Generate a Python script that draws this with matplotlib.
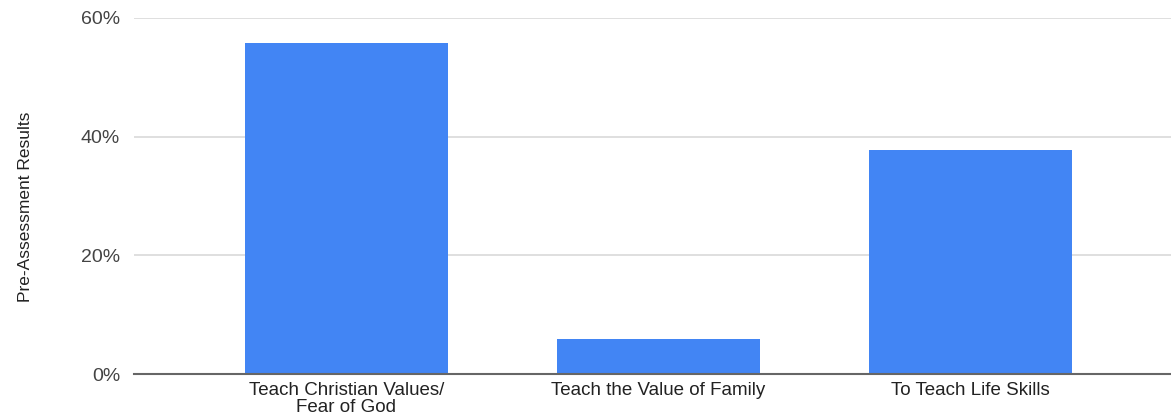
import matplotlib
matplotlib.use("Agg")
import matplotlib.pyplot as plt
from matplotlib.ticker import FuncFormatter

categories = ["Teach Christian Values/\nFear of God", "Teach the Value of Family", "To Teach Life Skills"]
values = [55.8, 5.9, 37.8]
yticks = [0, 20, 40, 60]

plt.rcParams['font.family'] = ['Liberation Sans', 'DejaVu Sans']

fig = plt.figure(figsize=(11.71, 4.15), dpi=100)
ax = fig.add_axes([134/1171, 41/415, 1 - 134/1171 + 0.002, (374-18)/415])

x = list(range(len(categories)))
ax.bar(x, values, width=0.65, color="#4285F4", zorder=3)
ax.set_xlim(-0.68, 2.65)
ax.set_ylim(0, 60)
ax.set_yticks(yticks)
ax.yaxis.set_major_formatter(FuncFormatter(lambda v, p: f"{int(v)}%"))
ax.set_xticks(x)
ax.set_xticklabels(categories, fontsize=13.5, color="#222222", linespacing=0.95)
ax.tick_params(axis='y', labelsize=14, labelcolor="#444444", length=0, pad=10)
ax.tick_params(axis='x', length=0, pad=6)
ax.grid(axis='y', color="#d9d9d9", linewidth=1.2, zorder=0)
for s in ['top', 'right', 'left']:
    ax.spines[s].set_visible(False)
ax.spines['bottom'].set_color("#666666")
ax.spines['bottom'].set_linewidth(1.5)
ax.spines['bottom'].set_zorder(4)

ax.set_ylabel("Pre-Assessment Results", fontsize=12.5, color="#222222")
ax.yaxis.set_label_coords(-0.0975, 0.469)

fig.savefig("out.png", dpi=100)
